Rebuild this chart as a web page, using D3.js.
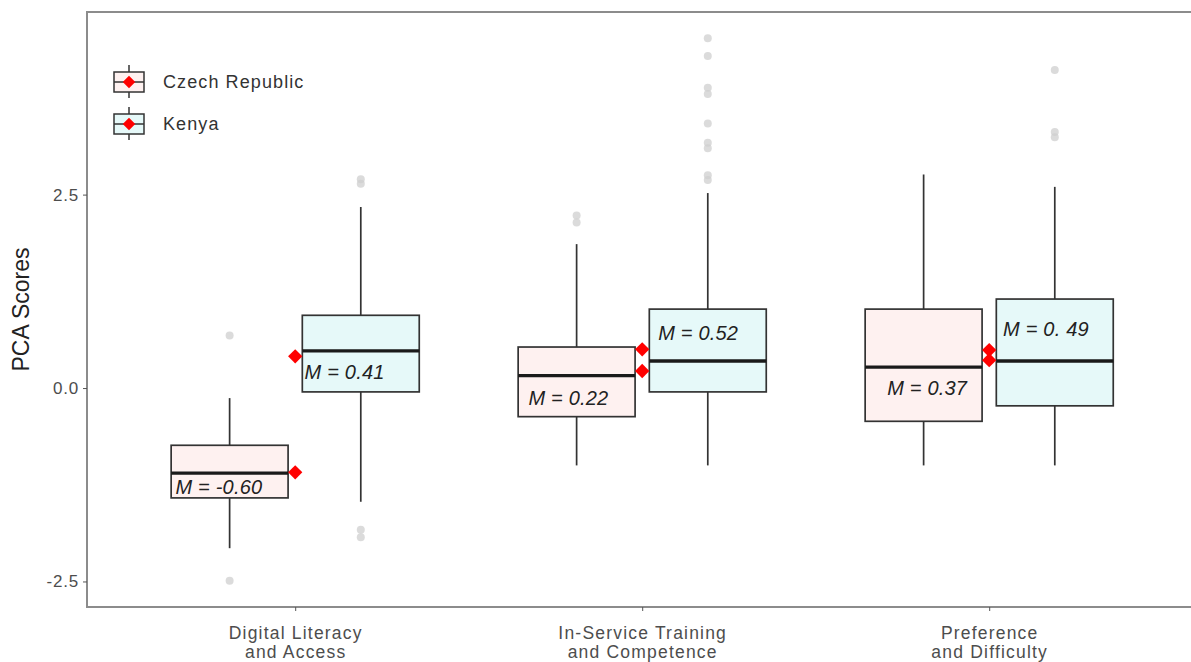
<!DOCTYPE html>
<meta charset="utf-8">
<head>
    <style>
        body { margin: 0; background: #fff; }
        text { font-family: "Liberation Sans", Arial, sans-serif; }
    </style>
    <script src="https://cdn.jsdelivr.net/npm/d3@7"></script>
</head>
<body></body>
<script>

    var width = 1191,
        height = 662;

    // categories on the x axis (two lines each)
    var categories = [
        ["Digital Literacy", "and Access"],
        ["In-Service Training", "and Competence"],
        ["Preference", "and Difficulty"]
    ];
    var countries = ["Czech Republic", "Kenya"];

    // box stats per category: [lower whisker, q1, median, q3, upper whisker]
    var czechBoxes = [
        [-2.07, -1.42, -1.10, -0.74, -0.13],
        [-1.00, -0.37, 0.16, 0.53, 1.86],
        [-1.00, -0.43, 0.27, 1.02, 2.76]
    ];
    var kenyaBoxes = [
        [-1.47, -0.05, 0.48, 0.94, 2.34],
        [-1.00, -0.05, 0.35, 1.02, 2.52],
        [-1.00, -0.23, 0.35, 1.15, 2.60]
    ];

    var czechOutliers = [[0.68, -2.49], [2.23, 2.14], []];
    var kenyaOutliers = [
        [2.70, 2.64, -1.83, -1.93],
        [4.52, 4.29, 3.88, 3.80, 3.42, 3.17, 3.10, 2.75, 2.69],
        [4.11, 3.31, 3.24]
    ];

    // means (red diamonds, drawn at category centre)
    var czechMeans = [-1.09, 0.22, 0.36];
    var kenyaMeans = [0.41, 0.50, 0.49];

    // "M = ..." annotations: text, x (category units, left edge), y (score units)
    var czechLabels = ["M = -0.60", "M = 0.22", "M = 0.37"];
    var kenyaLabels = ["M = 0.41", "M = 0.52", "M = 0. 49"];
    var czechLabelX = [0.655, 1.672, 2.706];
    var czechLabelY = [-1.28, -0.13, 0.00];
    var kenyaLabelX = [1.027, 2.046, 3.040];
    var kenyaLabelY = [0.21, 0.72, 0.76];

    var yTicks = [-2.5, 0, 2.5];

    var fills = ["#fef1f0", "#e6f9f9"];

    var plotLeft = 87, plotTop = 12, plotBottom = 607;

    var x = d3.scaleLinear().domain([0.4, 3.6]).range([plotLeft, plotLeft + 3.2 * 347]);
    var y = d3.scaleLinear().domain([-2.83, 4.86]).range([plotBottom, plotTop]);

    var dodge = 0.189, boxW = 0.337;

    var svg = d3.select("body").append("svg")
        .attr("width", width)
        .attr("height", height);

    // panel frame
    svg.append("rect")
        .attr("x", x(0.4)).attr("y", y(4.86))
        .attr("width", x(3.6) - x(0.4)).attr("height", y(-2.83) - y(4.86))
        .attr("fill", "none").attr("stroke", "#8c8c8c").attr("stroke-width", 2);

    // y axis
    var yAxis = svg.append("g")
        .attr("transform", "translate(" + plotLeft + ",0)")
        .call(d3.axisLeft(y).tickValues(yTicks).tickSize(4).tickPadding(4));
    yAxis.select(".domain").remove();
    yAxis.selectAll("line").attr("stroke", "#555");
    yAxis.selectAll("text").attr("font-size", 17).attr("letter-spacing", 0.8).attr("fill", "#4d4d4d")
        .text(function(d) { return d3.format(".1f")(d).replace("−", "-"); });

    svg.append("text")
        .attr("transform", "translate(29," + ((plotTop + plotBottom) / 2) + ") rotate(-90)")
        .attr("text-anchor", "middle")
        .attr("font-size", 23)
        .attr("fill", "#222")
        .text("PCA Scores");

    // x axis
    var xAxis = svg.append("g")
        .attr("transform", "translate(0," + plotBottom + ")")
        .call(d3.axisBottom(x).tickValues([1, 2, 3]).tickSize(4).tickFormat(""));
    xAxis.select(".domain").remove();
    xAxis.selectAll("line").attr("stroke", "#555");
    xAxis.selectAll(".tick").each(function(d, i) {
        var t = d3.select(this).append("text")
            .attr("text-anchor", "middle")
            .attr("font-size", 17.5)
            .attr("letter-spacing", 1.2)
            .attr("fill", "#4d4d4d");
        categories[i].forEach(function(line, j) {
            t.append("tspan").attr("x", 0).attr("y", 32 + j * 19).text(line);
        });
    });

    // boxes
    var series = [
        { boxes: czechBoxes, outliers: czechOutliers, off: -dodge, fill: fills[0] },
        { boxes: kenyaBoxes, outliers: kenyaOutliers, off: dodge, fill: fills[1] }
    ];

    series.forEach(function(s) {
        s.boxes.forEach(function(b, i) {
            var cx = i + 1 + s.off,
                g = svg.append("g");
            // whiskers
            g.append("line")
                .attr("x1", x(cx)).attr("x2", x(cx))
                .attr("y1", y(b[0])).attr("y2", y(b[1]))
                .attr("stroke", "#333").attr("stroke-width", 1.7);
            g.append("line")
                .attr("x1", x(cx)).attr("x2", x(cx))
                .attr("y1", y(b[3])).attr("y2", y(b[4]))
                .attr("stroke", "#333").attr("stroke-width", 1.7);
            g.append("rect")
                .attr("x", x(cx - boxW / 2)).attr("y", y(b[3]))
                .attr("width", x(cx + boxW / 2) - x(cx - boxW / 2))
                .attr("height", y(b[1]) - y(b[3]))
                .attr("fill", s.fill).attr("stroke", "#333").attr("stroke-width", 1.7);
            g.append("line")
                .attr("x1", x(cx - boxW / 2)).attr("x2", x(cx + boxW / 2))
                .attr("y1", y(b[2])).attr("y2", y(b[2]))
                .attr("stroke", "#1a1a1a").attr("stroke-width", 3.4);
            // outliers
            g.selectAll("circle")
                .data(s.outliers[i])
                .enter().append("circle")
                .attr("cx", x(cx)).attr("cy", function(d) { return y(d); })
                .attr("r", 4)
                .attr("fill", "#cfcfcf").attr("fill-opacity", 0.75);
        });
    });

    // mean labels
    function drawLabels(labels, lx, ly) {
        svg.selectAll(null)
            .data(labels)
            .enter().append("text")
            .attr("x", function(d, i) { return x(lx[i]); })
            .attr("y", function(d, i) { return y(ly[i]); })
            .attr("dy", "0.36em")
            .attr("font-size", 20)
            .attr("letter-spacing", 0.2)
            .attr("font-style", "italic")
            .attr("fill", "#222")
            .text(function(d) { return d; });
    }
    drawLabels(czechLabels, czechLabelX, czechLabelY);
    drawLabels(kenyaLabels, kenyaLabelX, kenyaLabelY);

    // mean diamonds
    var diamond = d3.symbol().type(d3.symbolDiamond2).size(130);
    [czechMeans, kenyaMeans].forEach(function(means) {
        svg.selectAll(null)
            .data(means)
            .enter().append("path")
            .attr("d", diamond)
            .attr("transform", function(d, i) { return "translate(" + x(i + 1) + "," + y(d) + ")"; })
            .attr("fill", "#ff0000");
    });

    // legend
    var legend = svg.append("g").attr("transform", "translate(113,60)");
    var keyDiamond = d3.symbol().type(d3.symbolDiamond2).size(100);
    countries.forEach(function(c, i) {
        var g = legend.append("g").attr("transform", "translate(0," + (i * 42) + ")");
        g.append("line").attr("x1", 16).attr("x2", 16).attr("y1", 5).attr("y2", 38)
            .attr("stroke", "#333").attr("stroke-width", 1.5);
        g.append("rect").attr("x", 1).attr("y", 12).attr("width", 30).attr("height", 20)
            .attr("fill", fills[i]).attr("stroke", "#333").attr("stroke-width", 1.5);
        g.append("line").attr("x1", 1).attr("x2", 31).attr("y1", 22).attr("y2", 22)
            .attr("stroke", "#333").attr("stroke-width", 1.5);
        g.append("path").attr("d", keyDiamond)
            .attr("transform", "translate(16,22)").attr("fill", "#ff0000");
        g.append("text").attr("x", 50).attr("y", 22).attr("dy", "0.36em")
            .attr("font-size", 18).attr("letter-spacing", 1.1)
            .attr("fill", "#333").text(c);
    });

</script>
